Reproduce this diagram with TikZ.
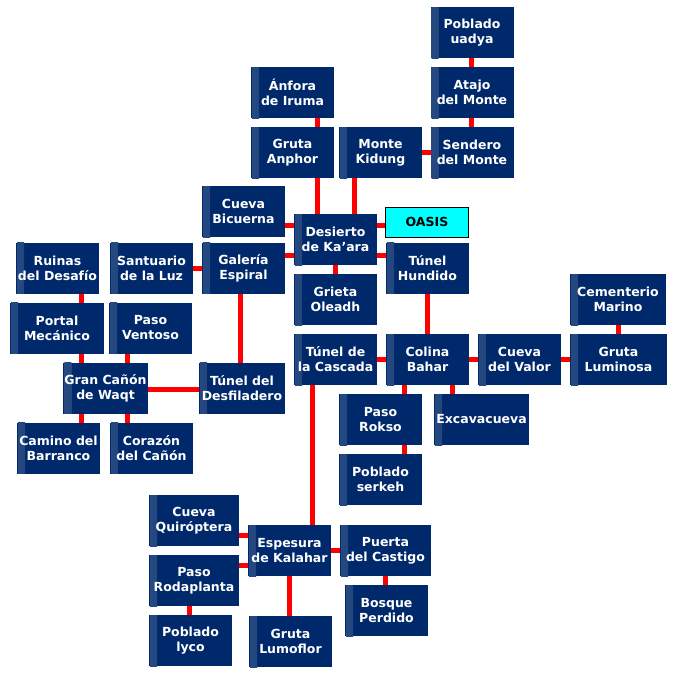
\documentclass[tikz,border=0pt]{standalone}
\usepackage{fontspec}
\setmainfont{DejaVu Sans}
\usetikzlibrary{backgrounds}
\definecolor{roomblue}{RGB}{0,41,107}
\definecolor{oasiscyan}{RGB}{0,255,255}
\definecolor{pathred}{RGB}{255,0,0}

\tikzset{
  room/.style={fill=roomblue, text=white, font=\fontsize{12.5}{15}\selectfont\bfseries,
    align=center, minimum width=83pt, minimum height=51pt, inner sep=1pt,
    path picture={\shade[left color=roomblue!85!white, right color=roomblue]
      ([xshift=1pt]path picture bounding box.south west) rectangle ([xshift=8pt]path picture bounding box.north west);}},
  oasisbox/.style={fill=oasiscyan, draw=black, line width=1pt, text=black,
    font=\fontsize{12.5}{15}\selectfont\bfseries, minimum width=83pt, minimum height=30pt},
  link/.style={pathred, line width=5pt}
}

\begin{document}
\begin{tikzpicture}[x=1pt, y=-1pt]
  \useasboundingbox (0,0) rectangle (678,675);

  % top branch
  \node[room] (uadya) at (472,32.5) {Poblado\\uadya};
  \node[room] (atajo) at (472,92.5) {Atajo\\del Monte};
  \node[room] (sendero) at (472,152.5) {Sendero\\del Monte};
  \node[room] (anfora) at (292.5,92.5) {Ánfora\\de Iruma};
  \node[room] (anphor) at (292.5,152.5) {Gruta\\Anphor};
  \node[room] (kidung) at (380.5,152.5) {Monte\\Kidung};

  % desert hub
  \node[room] (bicuerna) at (243.5,211.5) {Cueva\\Bicuerna};
  \node[room] (desierto) at (335.5,239.5) {Desierto\\de Ka’ara};
  \node[oasisbox] (oasis) at (427,222) {OASIS};
  \node[room] (hundido) at (427.5,268) {Túnel\\Hundido};
  \node[room] (galeria) at (243.5,268) {Galería\\Espiral};
  \node[room] (grieta) at (335.5,299.5) {Grieta\\Oleadh};

  % canyon
  \node[room] (ruinas) at (57.5,268) {Ruinas\\del Desafío};
  \node[room] (santuario) at (151.5,268) {Santuario\\de la Luz};
  \node[room, minimum width=94pt] (portal) at (57,328) {Portal\\Mecánico};
  \node[room] (ventoso) at (150.5,328) {Paso\\Ventoso};
  \node[room] (gran) at (105.5,388) {Gran Cañón\\de Waqt};
  \node[room, minimum width=86pt] (desfiladero) at (242,388) {Túnel del\\Desfiladero};
  \node[room] (camino) at (58.5,448) {Camino del\\Barranco};
  \node[room] (corazon) at (151.5,448) {Corazón\\del Cañón};

  % hill
  \node[room] (cascada) at (335.5,359.5) {Túnel de\\la Cascada};
  \node[room] (colina) at (427.5,359.5) {Colina\\Bahar};
  \node[room] (valor) at (519.5,359.5) {Cueva\\del Valor};
  \node[room, minimum width=97pt] (luminosa) at (618.5,359.5) {Gruta\\Luminosa};
  \node[room, minimum width=96pt] (cementerio) at (618,299.5) {Cementerio\\Marino};
  \node[room] (rokso) at (380.5,419.5) {Paso\\Rokso};
  \node[room, minimum width=95pt] (excava) at (481.5,419.5) {Excavacueva};
  \node[room] (serkeh) at (380.5,479.5) {Poblado\\serkeh};

  % thicket
  \node[room, minimum width=90pt] (quiroptera) at (194,520.5) {Cueva\\Quiróptera};
  \node[room] (espesura) at (289.5,550.5) {Espesura\\de Kalahar};
  \node[room, minimum width=91pt] (puerta) at (385.5,550.5) {Puerta\\del Castigo};
  \node[room, minimum width=90pt] (rodaplanta) at (194,580.5) {Paso\\Rodaplanta};
  \node[room] (lyco) at (190.5,640.5) {Poblado\\lyco};
  \node[room] (lumoflor) at (290.5,641.5) {Gruta\\Lumoflor};
  \node[room] (bosque) at (386.5,610.5) {Bosque\\Perdido};

  \begin{scope}[on background layer]
    \fill[white] (0,0) rectangle (678,675);
    % vertical links, shifted in x
    \foreach \a/\b/\d in {uadya/atajo/-1, atajo/sendero/-1, anfora/anphor/24.5,
        anphor/desierto/24.5, kidung/desierto/-26.5, desierto/grieta/0,
        galeria/desfiladero/-3.5, ruinas/portal/23.5, portal/gran/24,
        ventoso/gran/-23.5, gran/camino/-24.5, gran/corazon/21.5,
        hundido/colina/0, cementerio/luminosa/0, colina/rokso/-23.5,
        colina/excava/24.5, rokso/serkeh/23.5, cascada/espesura/-23.5,
        puerta/bosque/0, rodaplanta/lyco/-5, espesura/lumoflor/0}
      \draw[link] ([xshift=\d pt]\a.center) -- ([xshift=\d pt]\a.center |- \b.center);
    % horizontal links, shifted in y
    \foreach \a/\b/\d in {kidung/sendero/0, bicuerna/desierto/-13.5,
        galeria/desierto/13, desierto/oasis/14.5, desierto/hundido/-15.5,
        santuario/galeria/0, desfiladero/gran/-1, cascada/colina/0,
        colina/valor/0, valor/luminosa/0, quiroptera/espesura/-14.5,
        rodaplanta/espesura/15.5, espesura/puerta/0}
      \draw[link] ([yshift=\d pt]\a.center) -- ([yshift=\d pt]\a.center -| \b.center);
  \end{scope}
\end{tikzpicture}
\end{document}
